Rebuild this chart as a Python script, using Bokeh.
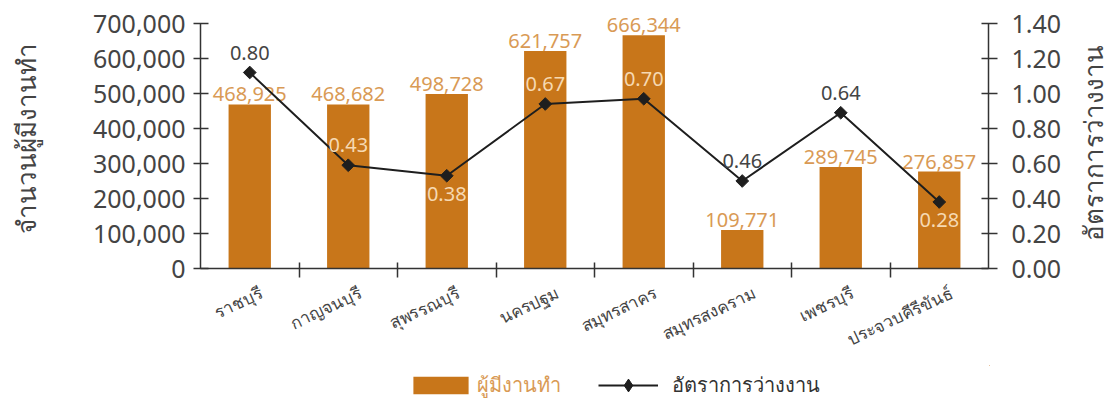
import math
from bokeh.plotting import figure
from bokeh.layouts import column, row
from bokeh.models import (ColumnDataSource, Range1d, LinearAxis, FixedTicker,
                          NumeralTickFormatter, Legend, LegendItem, Label)
from bokeh.embed import file_html
from bokeh.resources import INLINE
from bokeh.core.properties import value

# ---------------- data ----------------
provinces = ["ราชบุรี", "กาญจนบุรี", "สุพรรณบุรี", "นครปฐม",
             "สมุทรสาคร", "สมุทรสงคราม", "เพชรบุรี", "ประจวบคีรีขันธ์"]
employed = [468925, 468682, 498728, 621757, 666344, 109771, 289745, 276857]
# printed unemployment-rate labels
rate_labels = ["0.80", "0.43", "0.38", "0.67", "0.70", "0.46", "0.64", "0.28"]
# rate markers as drawn against the right axis
rate_drawn = [1.12, 0.59, 0.53, 0.94, 0.97, 0.50, 0.89, 0.38]
left_ticks = [0, 100000, 200000, 300000, 400000, 500000, 600000, 700000]
right_ticks = [0.0, 0.2, 0.4, 0.6, 0.8, 1.0, 1.2, 1.4]
bar_legend = "ผู้มีงานทำ"
line_legend = "อัตราการว่างงาน"
left_title = "จำนวนผู้มีงานทำ"
right_title = "อัตราการว่างงาน"

# ---------------- style ----------------
FONT = "Noto Sans"
BAR = "#C8761A"
BAR_TXT = "#D99A55"
ON_BAR_TXT = "#F6D9B2"
INK = "#444444"
AXIS = "#333333"
LINE = "#1e1e1e"
rate_label_side = ["above", "above", "below", "above", "above", "above", "above", "below"]
ABOVE_PX, BELOW_PX = -20, 18

W = 1110
AXIS_SPAN = 245      # px from 0 to the top tick
HEADROOM = 15        # px of frame above the top tick
BL, BT, BB = 200, 8, 97
FRAME_RIGHT = 989
BR = 75
WP = FRAME_RIGHT + BR          # main chart width
WR = W - WP                    # strip for the right-hand title
FRAME_H = AXIS_SPAN + HEADROOM
H1 = BT + FRAME_H + BB
H2 = 40

n = len(provinces)
xs = [i + 0.5 for i in range(n)]
label_ticks = [x + 0.12 for x in xs]
ymax = left_ticks[-1]
rmax = right_ticks[-1]
ytop = ymax * FRAME_H / AXIS_SPAN
rtop = rmax * FRAME_H / AXIS_SPAN

offs = [ABOVE_PX if s == "above" else BELOW_PX for s in rate_label_side]
rl_colors = []
for r, o, e in zip(rate_drawn, offs, employed):
    lab_left_units = r / rmax * ymax - o * ymax / AXIS_SPAN
    rl_colors.append(ON_BAR_TXT if lab_left_units < e else INK)

src = ColumnDataSource(dict(
    x=xs, employed=employed, elabel=[f"{v:,}" for v in employed],
    rate=rate_drawn, rlabel=rate_labels, roff=offs, rcol=rl_colors,
))

p = figure(width=WP, height=H1, x_range=Range1d(0, n), y_range=Range1d(0, ytop),
           output_backend="svg", toolbar_location=None,
           min_border_left=BL, min_border_right=BR, min_border_top=BT,
           min_border_bottom=BB)
p.extra_y_ranges = {"rate": Range1d(0, rtop)}
p.outline_line_color = None
p.xgrid.visible = False
p.ygrid.visible = False

# x axis
xa = p.xaxis[0]
xa.ticker = FixedTicker(ticks=label_ticks, minor_ticks=list(range(1, n)))
xa.major_label_overrides = {x: name for x, name in zip(label_ticks, provinces)}
xa.major_tick_line_color = None
xa.major_tick_in = 0
xa.major_tick_out = 0
xa.minor_tick_in = 6
xa.minor_tick_out = 9
xa.minor_tick_line_color = AXIS
xa.minor_tick_line_width = 1.5
xa.axis_line_color = AXIS
xa.axis_line_width = 1.5
xa.major_label_orientation = 0.44
xa.major_label_standoff = 14
xa.major_label_text_font = FONT
xa.major_label_text_font_size = "17px"
xa.major_label_text_color = INK

# left axis
ya = p.yaxis[0]
ya.ticker = FixedTicker(ticks=left_ticks)
ya.formatter = NumeralTickFormatter(format="0,0")
ya.bounds = (0, ymax)
ya.major_tick_in = 8
ya.major_tick_out = 7
ya.minor_tick_line_color = None
ya.axis_line_color = AXIS
ya.axis_line_width = 1.5
ya.major_tick_line_color = AXIS
ya.major_tick_line_width = 1.5
ya.major_label_standoff = 8
ya.major_label_text_font = FONT
ya.major_label_text_font_size = "25px"
ya.major_label_text_color = INK
ya.axis_label = left_title
ya.axis_label_text_font = FONT
ya.axis_label_text_font_size = "26px"
ya.axis_label_text_font_style = "normal"
ya.axis_label_text_color = INK
ya.axis_label_standoff = 46

# right axis
ra = LinearAxis(y_range_name="rate", ticker=FixedTicker(ticks=right_ticks),
                formatter=NumeralTickFormatter(format="0.00"))
ra.bounds = (0, rmax)
ra.major_tick_in = 7
ra.major_tick_out = 9
ra.minor_tick_line_color = None
ra.axis_line_color = AXIS
ra.axis_line_width = 1.5
ra.major_tick_line_color = AXIS
ra.major_tick_line_width = 1.5
ra.major_label_standoff = 14
ra.major_label_text_font = FONT
ra.major_label_text_font_size = "25px"
ra.major_label_text_color = INK
p.add_layout(ra, "right")

# bars
bars = p.vbar(x="x", top="employed", width=0.43, source=src,
              fill_color=BAR, line_color=None)
p.text(x="x", y="employed", text="elabel", source=src,
       text_align="center", text_baseline="bottom", y_offset=-3,
       text_font=value(FONT), text_font_size="20px", text_color=BAR_TXT)

# line
p.line(x="x", y="rate", source=src, y_range_name="rate",
       line_color=LINE, line_width=2)
p.scatter(x="x", y="rate", source=src, y_range_name="rate",
          marker="square", angle=math.pi / 4, size=9,
          fill_color=LINE, line_color=LINE)
p.text(x="x", y="rate", text="rlabel", source=src, y_range_name="rate",
       text_align="center", text_baseline="middle", y_offset="roff",
       text_font=value(FONT), text_font_size="20px", text_color="rcol")

# strip on the right carrying the right-axis title (reads bottom to top)
r = figure(width=WR, height=H1, x_range=Range1d(0, 1), y_range=Range1d(0, 1),
           output_backend="svg", toolbar_location=None,
           x_axis_location=None, y_axis_location=None,
           min_border_left=0, min_border_right=0, min_border_top=BT,
           min_border_bottom=BB)
r.outline_line_color = None
r.xgrid.visible = False
r.ygrid.visible = False
r.add_layout(Label(x=1092 - WP, y=FRAME_H - 15 - AXIS_SPAN / 2 + 3,
                   x_units="screen", y_units="screen",
                   text=right_title, angle=math.pi / 2, text_align="center",
                   text_baseline="middle", text_font=FONT, text_font_size="26px",
                   text_color=INK))

# legend strip (frame matched to the chart's frame)
q = figure(width=W, height=H2, x_range=Range1d(-100, -100 + n), y_range=Range1d(-2, -1),
           output_backend="svg", toolbar_location=None,
           x_axis_location=None, y_axis_location=None,
           min_border_left=BL, min_border_right=W - FRAME_RIGHT,
           min_border_top=0, min_border_bottom=0)
q.outline_line_color = None
q.xgrid.visible = False
q.ygrid.visible = False
lb = q.vbar(x="x", top="employed", width=0.43, source=src,
            fill_color=BAR, line_color=None)
ll = q.line(x="x", y="rate", source=src, line_color=LINE, line_width=2)
lm = q.scatter(x="x", y="rate", source=src, marker="diamond",
               size=12, fill_color=LINE, line_color=LINE)
common = dict(orientation="horizontal", padding=0, margin=0,
              border_line_color=None, background_fill_alpha=0,
              label_text_font=FONT, label_text_font_size="20px")
leg1 = Legend(items=[LegendItem(label=bar_legend, renderers=[lb])],
              location=(206, 4), glyph_width=69, glyph_height=22,
              label_standoff=2, label_text_color=BAR_TXT, **common)
leg2 = Legend(items=[LegendItem(label=line_legend, renderers=[ll, lm])],
              location=(398, 4), glyph_width=60, glyph_height=32,
              label_standoff=14, label_text_color="#333333", **common)
q.add_layout(leg1)
q.add_layout(leg2)

open("out.html", "w").write(file_html(column(row(p, r, spacing=0), q, spacing=0), INLINE))
